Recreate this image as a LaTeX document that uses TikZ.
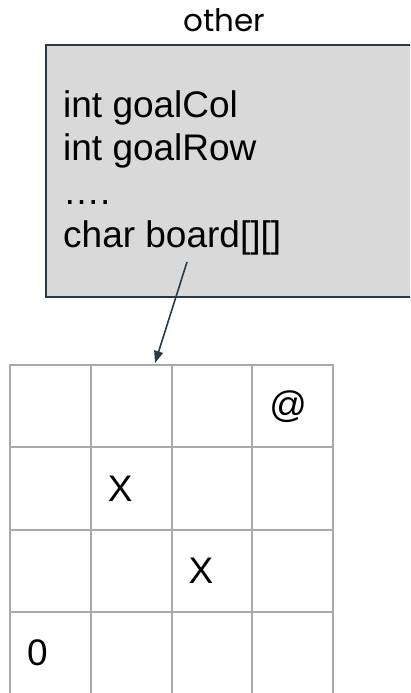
\documentclass[tikz,border=0pt]{standalone}
\usepackage{fontspec}
\setmainfont{Liberation Sans}
\newfontfamily\titlefont{Poppins}
\usetikzlibrary{arrows.meta}
\definecolor{boxfill}{HTML}{D9D9D9}
\definecolor{slate}{HTML}{263A48}
\definecolor{gridgray}{HTML}{A9A9A9}
\tikzset{
  classbox/.style={draw=slate, fill=boxfill, line width=1.6pt},
  fieldtext/.style={anchor=base west, inner sep=0pt, font=\fontsize{37}{43.5}\selectfont},
  cell/.style={draw=gridgray, line width=2pt, minimum width=80.75pt, minimum height=82.3pt, inner sep=0pt},
  celltext/.style={anchor=west, inner sep=0pt, font=\fontsize{37}{43.5}\selectfont},
  pointer/.style={draw=slate, line width=1.6pt, -{Triangle[length=12pt,width=9pt]}},
}
\begin{document}
\begin{tikzpicture}[x=1pt,y=-1pt]
\useasboundingbox (0,0) rectangle (410,693);
\clip (0,0) rectangle (410,693);
\node[anchor=base, inner sep=0pt, font=\titlefont\fontsize{31}{33}\selectfont] (title) at (224.5,32) {other};
\node[classbox, anchor=north west, minimum width=380pt, minimum height=252pt] (obj) at (45,44) {};
\node[fieldtext] (l1) at (63,117) {int goalCol};
\node[fieldtext] (l2) at (63,160.5) {int goalRow};
\node[fieldtext] (l3) at (63,204) {….};
\node[fieldtext] (l4) at (63,247.5) {char board[][]};
\foreach \r in {1,...,4}{
  \foreach \c in {1,...,4}{
    \node[cell, anchor=north west] (c-\r-\c) at ({9+(\c-1)*80.75},{364+(\r-1)*82.3}) {};
  }
}
\node[celltext] (t-1-4) at ([xshift=18pt]c-1-4.west) {@};
\node[celltext] (t-2-2) at ([xshift=18pt]c-2-2.west) {X};
\node[celltext] (t-3-3) at ([xshift=18pt]c-3-3.west) {X};
\node[celltext] (t-4-1) at ([xshift=18pt]c-4-1.west) {0};
\coordinate (tail) at (187,262);
\coordinate (head) at (155,363);
\draw[pointer] (tail) -- (head);
\end{tikzpicture}
\end{document}
